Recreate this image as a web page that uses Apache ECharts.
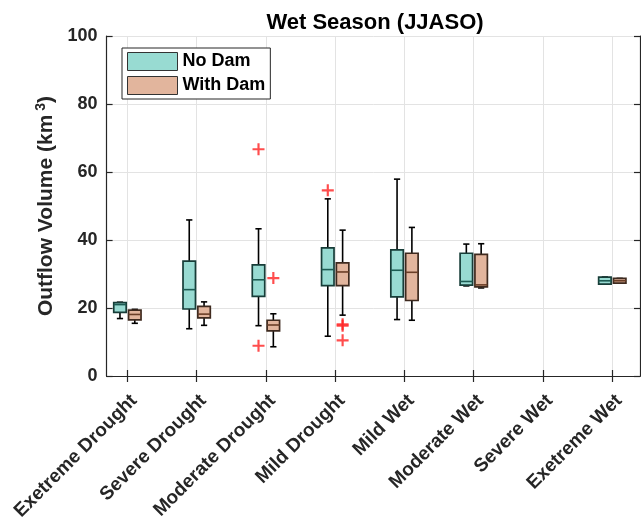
<!DOCTYPE html>
<html>
<head>
<meta charset="utf-8">
<script src="https://cdn.jsdelivr.net/npm/echarts@6/dist/echarts.min.js"></script>
<style>
  html, body { margin: 0; padding: 0; background: #fff; }
  #chart { width: 641px; height: 525px; }
</style>
</head>
<body>
<div id="chart"></div>
<script>
// categories on the x axis
const categories = ['Exetreme Drought', 'Severe Drought', 'Moderate Drought', 'Mild Drought',
  'Mild Wet', 'Moderate Wet', 'Severe Wet', 'Exetreme Wet']

// box stats per category: [min, q1, median, q3, max] (null = no data)
const noDamStats = [
  [16.9, 18.7, 21.0, 21.6, 21.7],
  [13.9, 19.7, 25.4, 33.8, 45.9],
  [14.8, 23.4, 28.3, 32.7, 43.3],
  [11.7, 26.6, 31.3, 37.7, 52.1],
  [16.6, 23.3, 31.1, 37.1, 57.9],
  [26.5, 26.7, 27.8, 36.1, 38.8],
  null,
  [27.0, 27.0, 28.0, 29.1, 29.1]
]
const withDamStats = [
  [15.5, 16.5, 18.1, 19.4, 19.6],
  [14.9, 17.1, 18.2, 20.5, 21.8],
  [8.6, 13.3, 15.0, 16.4, 18.3],
  [17.9, 26.6, 30.6, 33.3, 42.9],
  [16.4, 22.2, 30.5, 36.1, 43.7],
  [25.9, 26.2, 26.8, 35.8, 38.9],
  null,
  [27.3, 27.3, 28.0, 28.7, 28.7]
]

// outliers: [category number (1-based), value]
const noDamOutliers = [[3, 66.7], [3, 8.9], [4, 54.6]]
const withDamOutliers = [[3, 28.8], [4, 15.2], [4, 14.8], [4, 10.5]]

const yTicks = [0, 20, 40, 60, 80, 100]

// 样式
const FONT = 'Liberation Sans'
const TXT = '#262626'
const boxWidth = 0.18
const offset = 0.107
const plusPath = 'path://M4.1,0H5.9V4.1H10V5.9H5.9V10H4.1V5.9H0V4.1H4.1Z'

function toBoxData(stats) {
  const out = []
  stats.forEach((s, i) => {
    if (s) out.push([i + 1].concat(s))
  })
  return out
}

function boxRenderer(dx, fill, edge, mid) {
  return function (params, api) {
    const x = api.value(0) + dx
    const pMin = api.coord([x, api.value(1)])
    const pQ1 = api.coord([x, api.value(2)])
    const pMed = api.coord([x, api.value(3)])
    const pQ3 = api.coord([x, api.value(4)])
    const pMax = api.coord([x, api.value(5)])
    const w = api.size([boxWidth, 0])[0]
    const cx = pMin[0]
    const cap = w / 4
    const line = (x1, y1, x2, y2, color, lw) => ({
      type: 'line',
      shape: { x1, y1, x2, y2 },
      style: { stroke: color, lineWidth: lw }
    })
    return {
      type: 'group',
      children: [
        line(cx, pQ3[1], cx, pMax[1], '#000', 1.6),
        line(cx, pQ1[1], cx, pMin[1], '#000', 1.6),
        line(cx - cap, pMax[1], cx + cap, pMax[1], '#000', 1.6),
        line(cx - cap, pMin[1], cx + cap, pMin[1], '#000', 1.6),
        {
          type: 'rect',
          shape: { x: cx - w / 2, y: pQ3[1], width: w, height: pQ1[1] - pQ3[1] },
          style: { fill: fill, stroke: edge, lineWidth: 1.7 }
        },
        line(cx - w / 2, pMed[1], cx + w / 2, pMed[1], mid, 1.6)
      ]
    }
  }
}

const chart = echarts.init(document.getElementById('chart'))

const axisTextStyle = { fontFamily: FONT, fontWeight: 'bold', color: TXT }
const catTicks = categories.map((c, i) => i + 1)

const option = {
  animation: false,
  backgroundColor: '#fff',
  title: {
    text: 'Wet Season (JJASO)',
    left: 370,
    textAlign: 'center',
    top: 7,
    textStyle: { fontFamily: FONT, fontWeight: 'bold', fontSize: 22, color: '#000' }
  },
  legend: {
    data: ['No Dam', 'With Dam'],
    orient: 'vertical',
    left: 122,
    top: 48,
    padding: [4, 5, 4, 5],
    itemGap: 5,
    itemWidth: 50,
    itemHeight: 18,
    icon: 'rect',
    borderColor: TXT,
    borderWidth: 1,
    backgroundColor: '#fff',
    itemStyle: { borderColor: '#333', borderWidth: 1 },
    textStyle: { fontFamily: FONT, fontWeight: 'bold', fontSize: 18, color: '#000' }
  },
  grid: { left: 106.6, right: 1, top: 36, bottom: 149, containLabel: false },
  xAxis: [
    {
      type: 'value',
      min: 0.7,
      max: 8.4,
      axisLine: { lineStyle: { color: TXT, width: 1.2 } },
      axisTick: { inside: true, length: 6, customValues: catTicks, lineStyle: { color: TXT, width: 1.2 } },
      axisLabel: Object.assign({
        customValues: catTicks,
        rotate: 45,
        fontSize: 19,
        margin: 15,
        verticalAlign: 'top',
        formatter: v => categories[Math.round(v) - 1] || ''
      }, axisTextStyle),
      splitLine: { show: true, lineStyle: { color: '#e3e3e3', width: 1 } }
    },
    {
      type: 'value',
      position: 'top',
      min: 0.7,
      max: 8.4,
      axisLine: { show: true, lineStyle: { color: TXT, width: 1.2 } },
      axisTick: { show: true, inside: true, length: 6, customValues: catTicks, lineStyle: { color: TXT, width: 1.2 } },
      axisLabel: { show: false },
      splitLine: { show: false }
    }
  ],
  yAxis: [
    {
      type: 'value',
      min: 0,
      max: 100,
      interval: 20,
      name: '{n|Outflow Volume (km}{s|3}{n|)}',
      nameLocation: 'middle',
      nameGap: 39,
      nameRotate: 90,
      nameTextStyle: {
        rich: {
          n: { fontFamily: FONT, fontWeight: 'bold', fontSize: 21, color: TXT, lineHeight: 24 },
          s: { fontFamily: FONT, fontWeight: 'bold', fontSize: 14, color: TXT, verticalAlign: 'top', padding: [0, 0, 0, 4] }
        }
      },
      axisLine: { show: true, lineStyle: { color: TXT, width: 1.2 } },
      axisTick: { show: true, inside: true, length: 6, lineStyle: { color: TXT, width: 1.2 } },
      axisLabel: Object.assign({
        fontSize: 18,
        margin: 9,
        customValues: yTicks
      }, axisTextStyle),
      splitLine: { show: true, lineStyle: { color: '#e3e3e3', width: 1 } }
    },
    {
      type: 'value',
      position: 'right',
      min: 0,
      max: 100,
      interval: 20,
      axisLine: { show: true, lineStyle: { color: TXT, width: 1.2 } },
      axisTick: { show: true, inside: true, length: 6, lineStyle: { color: TXT, width: 1.2 } },
      axisLabel: { show: false },
      splitLine: { show: false }
    }
  ],
  series: [
    {
      name: 'No Dam',
      type: 'custom',
      itemStyle: { color: '#98dbd2' },
      renderItem: boxRenderer(-offset, '#98dbd2', '#173d38', '#1d5c53'),
      encode: { x: 0, y: [1, 2, 3, 4, 5] },
      data: toBoxData(noDamStats),
      z: 3
    },
    {
      name: 'With Dam',
      type: 'custom',
      itemStyle: { color: '#e2b59d' },
      renderItem: boxRenderer(offset, '#e2b59d', '#3e2a1f', '#6a3e27'),
      encode: { x: 0, y: [1, 2, 3, 4, 5] },
      data: toBoxData(withDamStats),
      z: 3
    },
    {
      name: 'No Dam outliers',
      type: 'scatter',
      symbol: plusPath,
      symbolSize: 12,
      itemStyle: { color: '#ff2020' },
      data: noDamOutliers.map(d => [d[0] - offset, d[1]]),
      z: 4
    },
    {
      name: 'With Dam outliers',
      type: 'scatter',
      symbol: plusPath,
      symbolSize: 12,
      itemStyle: { color: '#ff2020' },
      data: withDamOutliers.map(d => [d[0] + offset, d[1]]),
      z: 4
    }
  ]
}

chart.setOption(option)
</script>
</body>
</html>
